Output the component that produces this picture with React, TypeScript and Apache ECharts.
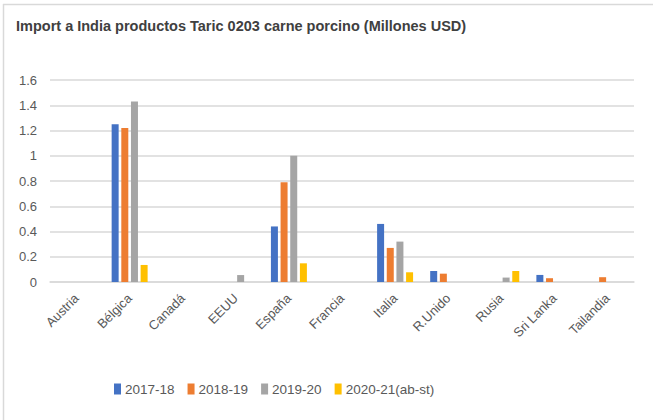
import React, { useEffect, useRef } from "react";
import * as echarts from "echarts";

const categories = ["Austria", "Bélgica", "Canadá", "EEUU", "España", "Francia", "Italia", "R.Unido", "Rusia", "Sri Lanka", "Tailandia"];
const seriesNames = ["2017-18", "2018-19", "2019-20", "2020-21(ab-st)"];
const v2017 = [null, 1.25, null, null, 0.44, null, 0.46, 0.087, null, 0.056, null];
const v2018 = [null, 1.22, null, null, 0.79, null, 0.27, 0.066, null, 0.03, 0.038];
const v2019 = [null, 1.43, null, 0.055, 1.0, null, 0.32, null, 0.035, null, null];
const v2020 = [null, 0.135, null, null, 0.148, null, 0.077, null, 0.087, null, null];
const colors = ["#4472C4", "#ED7D31", "#A5A5A5", "#FFC000"];

const FONT = "'Liberation Sans', Arial, sans-serif";

export default function App() {
  const ref = useRef<HTMLDivElement>(null);
  useEffect(() => {
    const chart = echarts.init(ref.current!, null, { renderer: "svg" });
    const values = [v2017, v2018, v2019, v2020];
    chart.setOption({
      animation: false,
      color: colors,
      textStyle: { fontFamily: FONT },
      title: {
        text: "Import a India productos Taric 0203 carne porcino (Millones USD)",
        left: 11,
        top: 13,
        textStyle: { fontFamily: FONT, fontSize: 14.5, fontWeight: "bold", color: "#404040" },
      },
      legend: {
        left: 109,
        top: 377,
        itemWidth: 7,
        itemHeight: 11,
        itemGap: 13,
        icon: "rect",
        textStyle: { fontFamily: FONT, fontSize: 13.5, color: "#595959", padding: [0, 0, 0, -1] },
        data: seriesNames,
      },
      grid: { left: 50, right: 19, top: 80, bottom: 138, containLabel: false },
      xAxis: {
        type: "category",
        data: categories,
        axisLine: { lineStyle: { color: "#d9d9d9", width: 1.5 } },
        axisTick: { show: false },
        axisLabel: { rotate: 45, interval: 0, color: "#595959", fontSize: 13, fontFamily: FONT, margin: 14 },
      },
      yAxis: {
        type: "value",
        min: 0,
        max: 1.6,
        interval: 0.2,
        axisLine: { show: false },
        axisTick: { show: false },
        splitLine: { lineStyle: { color: "#d9d9d9", width: 1.5 } },
        axisLabel: {
          color: "#595959",
          fontSize: 13,
          fontFamily: FONT,
          margin: 13,
          formatter: (v: number) => String(Math.round(v * 10) / 10),
        },
      },
      series: seriesNames.map((name, i) => ({
        name,
        type: "bar",
        data: values[i],
        barWidth: 7,
        barGap: "38%",
        itemStyle: { color: colors[i] },
      })),
      graphic: [
        { type: "line", shape: { x1: 3, y1: 4.5, x2: 653, y2: 4.5 }, style: { stroke: "#d9d9d9", lineWidth: 1.5 } },
        { type: "line", shape: { x1: 3.5, y1: 4, x2: 3.5, y2: 420 }, style: { stroke: "#d9d9d9", lineWidth: 1.5 } },
      ],
    });
    return () => chart.dispose();
  }, []);
  return <div ref={ref} style={{ width: 653, height: 420, position: "absolute", left: 0, top: 0, background: "#fff" }} />;
}
